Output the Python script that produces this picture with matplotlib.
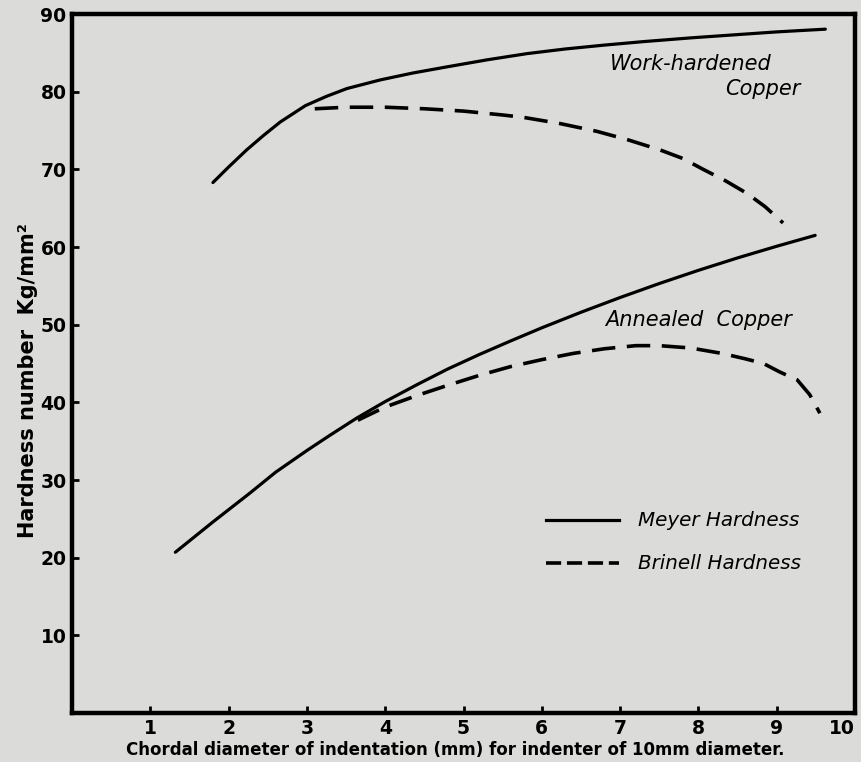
import matplotlib.pyplot as plt

# readings taken off the old figure (x = chordal diameter mm, y = hardness kg/mm2)
work_meyer_x = [1.80, 2.00, 2.23, 2.45, 2.66, 2.98, 3.25, 3.51, 3.93, 4.35, 4.79,
                5.30, 5.81, 6.30, 6.80, 7.30, 7.93, 8.50, 9.00, 9.62]
work_meyer_y = [68.3, 70.3, 72.5, 74.4, 76.1, 78.2, 79.4, 80.4, 81.5, 82.4, 83.2,
                84.1, 84.9, 85.5, 86.0, 86.45, 86.95, 87.35, 87.7, 88.05]

work_brinell_x = [3.10, 3.50, 4.00, 4.50, 5.00, 5.50, 5.76, 6.23, 6.70, 7.10,
                  7.51, 7.80, 8.06, 8.35, 8.62, 8.85, 9.08]
work_brinell_y = [77.8, 78.0, 78.0, 77.8, 77.5, 77.0, 76.7, 75.9, 74.9, 73.8,
                  72.5, 71.4, 70.0, 68.5, 66.9, 65.2, 63.1]

ann_meyer_x = [1.32, 1.80, 2.27, 2.60, 3.00, 3.30, 3.64, 4.00, 4.41, 4.80,
               5.21, 5.60, 6.00, 6.50, 7.00, 7.50, 8.00, 8.50, 9.00, 9.49]
ann_meyer_y = [20.7, 24.6, 28.3, 31.0, 33.8, 35.8, 38.0, 40.1, 42.3, 44.3,
               46.2, 47.9, 49.6, 51.6, 53.5, 55.3, 57.0, 58.6, 60.1, 61.5]

ann_brinell_x = [3.65, 4.00, 4.41, 4.80, 5.21, 5.60, 6.00, 6.40, 6.80, 7.20,
                 7.50, 7.90, 8.30, 8.60, 8.83, 9.04, 9.26, 9.42, 9.55]
ann_brinell_y = [37.7, 39.4, 40.9, 42.2, 43.5, 44.6, 45.5, 46.3, 46.9, 47.3,
                 47.3, 47.0, 46.3, 45.6, 45.0, 43.9, 42.9, 41.0, 38.6]

x_ticks = [1, 2, 3, 4, 5, 6, 7, 8, 9, 10]
y_ticks = [10, 20, 30, 40, 50, 60, 70, 80, 90]

plt.rcParams['font.family'] = ['DejaVu Sans']
bg = '#dbdbd9'

fig = plt.figure(figsize=(8.62, 7.62), dpi=100, facecolor=bg)
ax = fig.add_axes([0.0835, 0.0643, 0.9085, 0.9173], facecolor=bg)

dash = (0, (6.5, 3.2))
ax.plot(work_meyer_x, work_meyer_y, color='black', lw=2.3, solid_capstyle='round')
ax.plot(work_brinell_x, work_brinell_y, color='black', lw=2.6, linestyle=dash)
ax.plot(ann_meyer_x, ann_meyer_y, color='black', lw=2.3, solid_capstyle='round')
ax.plot(ann_brinell_x, ann_brinell_y, color='black', lw=2.6, linestyle=dash)

# hand drawn legend inside the plot
ax.plot([6.05, 6.99], [24.8, 24.8], color='black', lw=2.3)
ax.plot([6.05, 6.99], [19.3, 19.3], color='black', lw=2.6, linestyle=(0, (4.2, 1.6)))
ax.text(7.23, 24.8, 'Meyer Hardness', fontsize=14.3, style='italic', va='center', ha='left')
ax.text(7.23, 19.3, 'Brinell Hardness', fontsize=14.3, style='italic', va='center', ha='left')

ax.text(7.9, 83.6, 'Work-hardened', fontsize=15, style='italic', ha='center', va='center')
ax.text(8.82, 80.4, 'Copper', fontsize=15, style='italic', ha='center', va='center')
ax.text(8.0, 50.6, 'Annealed  Copper', fontsize=15, style='italic', ha='center', va='center')

ax.set_xlim(0, 10)
ax.set_ylim(0, 90)
ax.set_xticks(x_ticks)
ax.set_yticks(y_ticks)
ax.tick_params(direction='in', length=5, width=2, labelsize=13.5, pad=4)
for lab in ax.get_xticklabels() + ax.get_yticklabels():
    lab.set_fontweight('bold')
ax.get_xticklabels()[-1].set_ha('right')
for sp in ax.spines.values():
    sp.set_linewidth(3.2)

ax.set_xlabel('Chordal diameter of indentation (mm) for indenter of 10mm diameter.',
              fontsize=12, fontweight='bold')
ax.xaxis.set_label_coords(0.49, -0.040)
ax.xaxis.label.set_va('top')
ax.set_ylabel('Hardness number  Kg/mm²', fontsize=15, fontweight='bold')
ax.yaxis.set_label_coords(-0.044, 0.476)

fig.savefig('out.png', dpi=100, facecolor=bg)
